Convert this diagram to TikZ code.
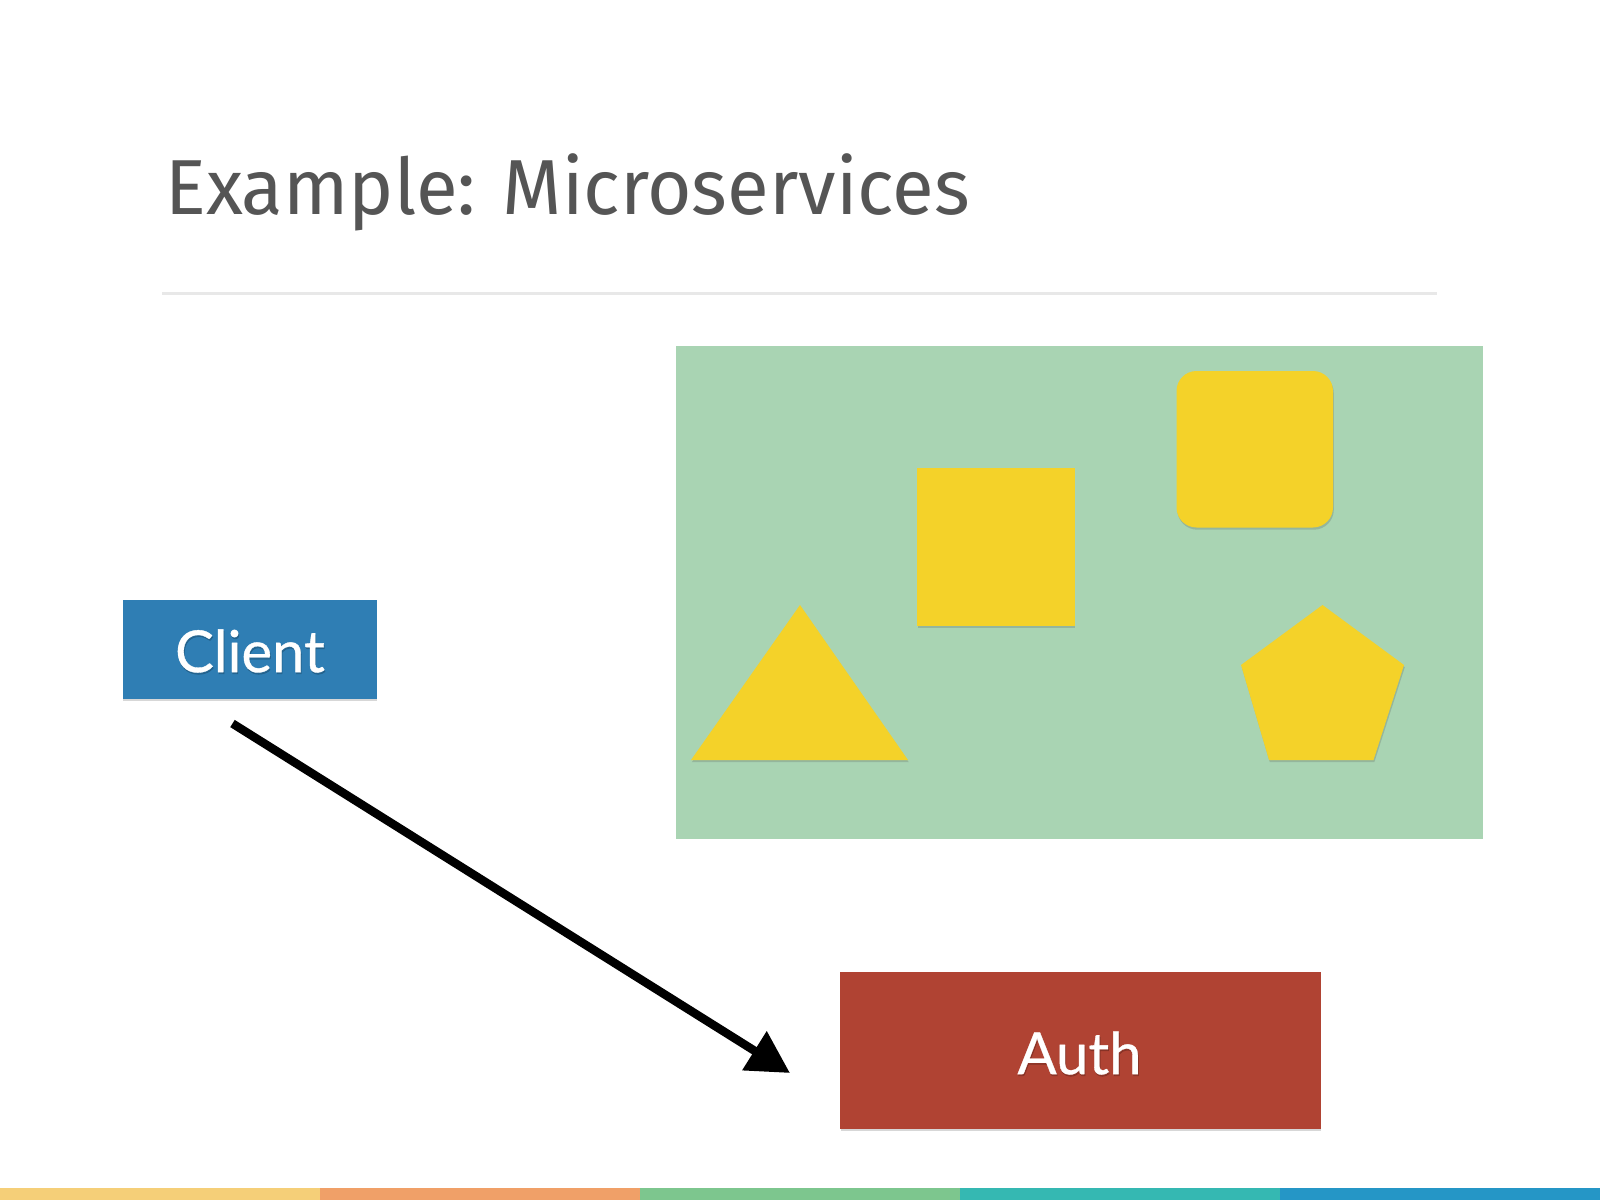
\documentclass[tikz,border=0pt]{standalone}
\usepackage{fontspec}
\setmainfont{Fira Sans}
\newfontfamily\titlefont[FakeStretch=0.978]{Fira Sans}
\newfontfamily\labelfont[FakeBold=0.6]{Lato}
\usetikzlibrary{arrows.meta,shadows}
\definecolor{titlegray}{HTML}{555555}
\definecolor{rulegray}{HTML}{E8E8E8}
\definecolor{panelgreen}{HTML}{A9D4B3}
\definecolor{shapeyellow}{HTML}{F4D229}
\definecolor{clientblue}{HTML}{2F7EB4}
\definecolor{authred}{HTML}{B04333}
\definecolor{stripeA}{HTML}{F5CF78}
\definecolor{stripeB}{HTML}{F0A068}
\definecolor{stripeC}{HTML}{7DC68E}
\definecolor{stripeD}{HTML}{35B8B2}
\definecolor{stripeE}{HTML}{2596C6}
\tikzset{
  softshadow/.style={drop shadow={shadow xshift=0.8pt,shadow yshift=-2.2pt,opacity=0.22,fill=black!70}},
  yellowshape/.style={fill=shapeyellow,draw=none,softshadow},
  labelbox/.style={draw=none,inner sep=0pt,softshadow},
  labeltext/.style={text=white,font=\labelfont\fontsize{58}{58}\selectfont},
  labelshade/.style={text=black,opacity=0.18,font=\labelfont\fontsize{58}{58}\selectfont},
  connector/.style={line width=8.5pt,black,-{Triangle[length=42pt,width=44pt]}}
}
\begin{document}
\begin{tikzpicture}[x=1pt,y=-1pt]
\useasboundingbox (0,0) rectangle (1600,1200);
\fill[white] (0,0) rectangle (1600,1200);
% title
\node[anchor=base west,inner sep=0pt,text=titlegray,font=\titlefont\fontsize{78}{78}\selectfont] (title) at (165,214) {Example: Microservices};
\draw[rulegray,line width=3pt] (162,293) -- (1437,293);
% green panel
\fill[panelgreen] (675.5,346) rectangle (1483,839);
% shapes
\fill[yellowshape] (917,468) rectangle (1074.5,625.5);
\fill[yellowshape,rounded corners=20pt] (1176.5,371) rectangle (1333,527.5);
\fill[yellowshape] (800,605) -- (908,760) -- (691,760) -- cycle;
\fill[yellowshape] (1322.5,605) -- (1404,665) -- (1373.5,760) -- (1269,760) -- (1241,665) -- cycle;
% boxes
\node[labelbox,fill=clientblue,minimum width=254pt,minimum height=99pt] (client) at (249.5,649.5) {};
\node[labelshade] at (250.8,652.8) {Client};
\node[labeltext] (clienttext) at (250,651) {Client};
\node[labelbox,fill=authred,minimum width=480.5pt,minimum height=157pt] (auth) at (1080.25,1050) {};
\node[labelshade] at (1080.3,1054.8) {Auth};
\node[labeltext] (authtext) at (1079.5,1053) {Auth};
% connector
\coordinate (astart) at (232.5,723.5);
\coordinate (aend) at (790,1073);
\draw[connector] (astart) -- (aend);
% bottom stripe
\fill[stripeA] (0,1188) rectangle (320,1200);
\fill[stripeB] (320,1188) rectangle (640,1200);
\fill[stripeC] (640,1188) rectangle (960,1200);
\fill[stripeD] (960,1188) rectangle (1280,1200);
\fill[stripeE] (1280,1188) rectangle (1600,1200);
\end{tikzpicture}
\end{document}
